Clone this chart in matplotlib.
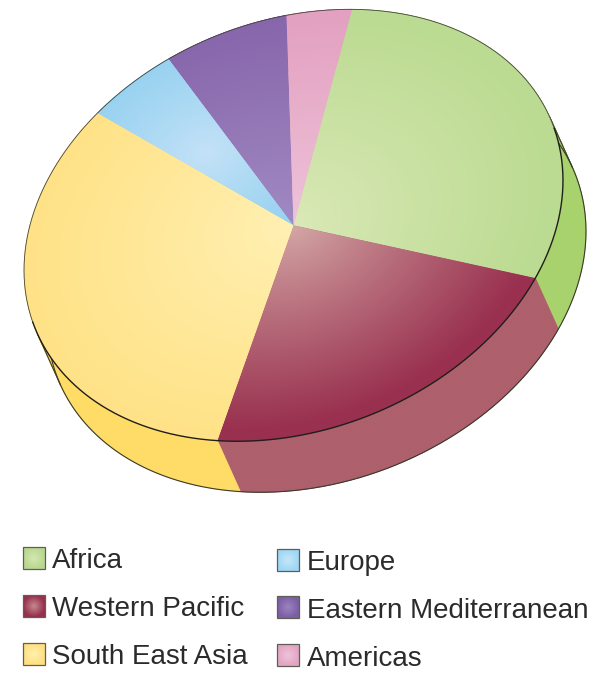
import numpy as np
import matplotlib
matplotlib.use("Agg")
import matplotlib.pyplot as plt
from matplotlib.transforms import Affine2D
from matplotlib.collections import PolyCollection
from matplotlib.patches import Rectangle

categories = ["Africa", "Western Pacific", "South East Asia", "Europe", "Eastern Mediterranean", "Americas"]
values = [28.8, 22.3, 32.5, 5.3, 7.25, 3.9]

center_col = ["#dbe9b8", "#d4a8a6", "#fff0b4", "#c4e2f7", "#a58fc6", "#efc4da"]
edge_col = ["#bcdb92", "#99304f", "#ffe07f", "#93d0f0", "#8766ab", "#e3a0c0"]
side_col = ["#a8d26c", "#ad5f6b", "#ffdc66", "#93d0f0", "#8766ab", "#e3a0c0"]
grad_centre = [(0.0, 0.0), (0.0, 0.0), (0.0, 0.0), (-0.36, -0.38), (-0.1, 0.1), (0.0, 0.0)]
grad_radius = [0.95, 0.95, 1.2, 0.55, 1.1, 1.0]
swatch_xy = [(23, 547), (23, 595), (23, 643), (277, 549), (277, 596), (277, 644)]
swatch_mid = ["#d5e7b3", "#c58a90", "#fff0b0", "#c8e7f8", "#9c84c0", "#efc3d8"]
swatch_edge = ["#b9d88f", "#97304c", "#ffe081", "#9fd7f5", "#7c5ea5", "#e3a5c5"]

W, H = 596, 685
START = 7.2
CX, CY = 293.5, 225.3
A = np.array([[268.3, -25.09], [-25.09, 214.5]])
DEPTH = np.array([23.0, 51.0])
OUT = "#3a3a2e"

fig = plt.figure(figsize=(W / 100, H / 100), dpi=100)
ax = fig.add_axes([0, 0, 1, 1])
wedges, _ = ax.pie(values, startangle=90 - START, counterclock=False, radius=1, center=(0, 0))

M = Affine2D(np.array([[A[0, 0], -A[0, 1], CX], [A[1, 0], -A[1, 1], CY], [0, 0, 1]]))


def ell(theta_deg):
    t = np.radians(theta_deg)
    u = np.column_stack([np.sin(t), -np.cos(t)])
    return u @ A.T + np.array([CX, CY])


def rgb(h):
    return np.array(matplotlib.colors.to_rgb(h))


# side wall
fr = np.array(values) / np.sum(values) * 360
cum = START + np.concatenate([[0], np.cumsum(fr)])
for i in range(len(values)):
    th = np.linspace(cum[i], cum[i + 1], 200)
    p = ell(th)
    q = p + DEPTH
    quads = [[p[j], p[j + 1], q[j + 1], q[j]] for j in range(len(th) - 1)]
    ax.add_collection(PolyCollection(quads, facecolors=side_col[i], edgecolors=side_col[i], linewidths=0.6, zorder=1))
th = np.linspace(0, 360, 721)
q = ell(th) + DEPTH
ax.plot(q[:, 0], q[:, 1], color=OUT, lw=0.8, zorder=2)
Ainv = np.linalg.inv(A)
d = Ainv @ DEPTH
d = d / np.linalg.norm(d)
for s in (1, -1):
    t0 = A @ (s * np.array([-d[1], d[0]])) + np.array([CX, CY])
    ax.plot([t0[0], t0[0] + DEPTH[0]], [t0[1], t0[1] + DEPTH[1]], color=OUT, lw=0.8, zorder=2)

# top face with radial shading
xx, yy = np.meshgrid(np.arange(W) + 0.5, np.arange(H) + 0.5)
uv = np.stack([xx - CX, yy - CY], -1) @ Ainv.T
for i, w in enumerate(wedges):
    w.set_transform(M + ax.transData)
    w.set_facecolor(edge_col[i])
    w.set_edgecolor("none")
    w.set_zorder(3)
    gx, gy = grad_centre[i]
    r = np.hypot(uv[..., 0] - gx, uv[..., 1] - gy) / grad_radius[i]
    f = np.clip(r, 0, 1)[..., None] ** 0.9
    img = rgb(center_col[i]) * (1 - f) + rgb(edge_col[i]) * f
    im = ax.imshow(img, extent=(0, W, H, 0), aspect="auto", zorder=3.5, interpolation="bilinear")
    im.set_clip_path(w)

# rim: fine along the back, heavier along the front
back = ell(np.linspace(-110, 70, 400))
front = ell(np.linspace(70, 250, 400))
ax.plot(back[:, 0], back[:, 1], color="#45453c", lw=0.6, zorder=5)
ax.plot(front[:, 0], front[:, 1], color="#1f1f1a", lw=1.0, zorder=5)

# legend
yy2, xx2 = np.mgrid[-1:1:44j, -1:1:44j]
rr = np.clip(np.hypot(xx2, yy2), 0, 1)[..., None]
for i, name in enumerate(categories):
    x, y = swatch_xy[i]
    img = rgb(swatch_mid[i]) * (1 - rr) + rgb(swatch_edge[i]) * rr
    ax.imshow(img, extent=(x, x + 22, y + 22, y), aspect="auto", zorder=6)
    ax.add_patch(Rectangle((x, y), 22, 22, fill=False, ec="#5f5f55", lw=0.9, zorder=7))
    ax.text(x + 29 if i < 3 else x + 30, y + 21.5, name, family="Liberation Sans", fontsize=20,
            color="#2b2b2b", va="baseline", ha="left", zorder=7)

ax.set_xlim(0, W)
ax.set_ylim(H, 0)
ax.set_aspect("auto")
ax.axis("off")
fig.savefig("out.png", dpi=100, facecolor="white")
